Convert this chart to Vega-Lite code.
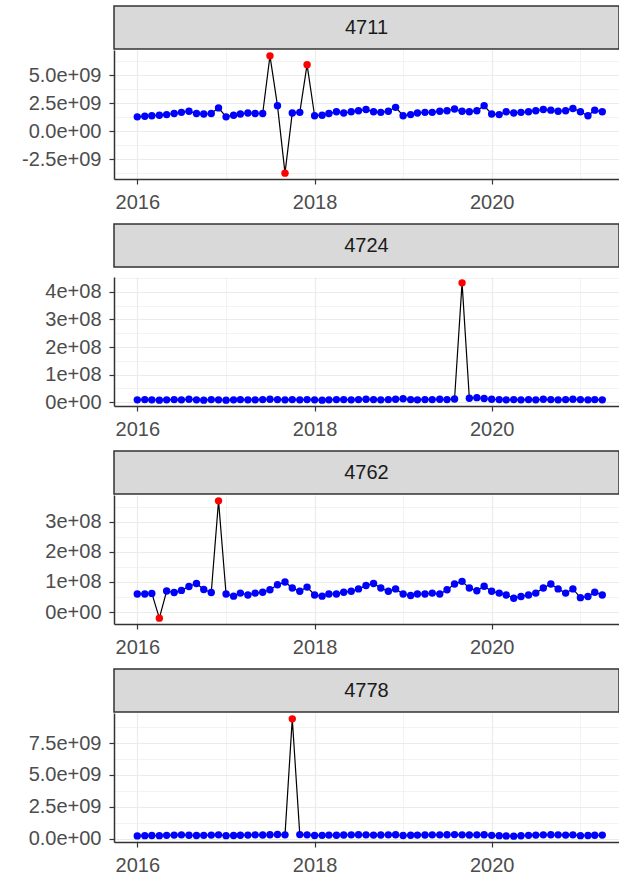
{
  "$schema": "https://vega.github.io/schema/vega-lite/v6.json",
  "padding": {"left": 14, "top": 5, "right": 0, "bottom": 0},
  "spacing": 11,
  "config": {
    "view": {"stroke": null},
    "axis": {"labelFont": "Liberation Sans", "labelFontSize": 20, "labelColor": "#4D4D4D", "tickColor": "#333333", "tickSize": 5, "tickWidth": 1.2, "domainColor": "#333333", "domainWidth": 1.5, "gridColor": "#EBEBEB", "labelPadding": 4, "labelFlush": false, "labelOverlap": false},
    "axisX": {"labelPadding": 8},
    "axisY": {"minExtent": 100, "maxExtent": 100, "labelPadding": 8}
  },
  "datasets": {
    "d": [
      {"p":"4711","d":"2016-01","v":1.30e9,"a":"N"},{"p":"4711","d":"2016-02","v":1.35e9,"a":"N"},{"p":"4711","d":"2016-03","v":1.40e9,"a":"N"},{"p":"4711","d":"2016-04","v":1.45e9,"a":"N"},{"p":"4711","d":"2016-05","v":1.50e9,"a":"N"},{"p":"4711","d":"2016-06","v":1.60e9,"a":"N"},{"p":"4711","d":"2016-07","v":1.70e9,"a":"N"},{"p":"4711","d":"2016-08","v":1.80e9,"a":"N"},{"p":"4711","d":"2016-09","v":1.60e9,"a":"N"},{"p":"4711","d":"2016-10","v":1.55e9,"a":"N"},{"p":"4711","d":"2016-11","v":1.60e9,"a":"N"},{"p":"4711","d":"2016-12","v":2.10e9,"a":"N"},
      {"p":"4711","d":"2017-01","v":1.30e9,"a":"N"},{"p":"4711","d":"2017-02","v":1.45e9,"a":"N"},{"p":"4711","d":"2017-03","v":1.55e9,"a":"N"},{"p":"4711","d":"2017-04","v":1.65e9,"a":"N"},{"p":"4711","d":"2017-05","v":1.60e9,"a":"N"},{"p":"4711","d":"2017-06","v":1.60e9,"a":"N"},{"p":"4711","d":"2017-07","v":6.75e9,"a":"Y"},{"p":"4711","d":"2017-08","v":2.30e9,"a":"N"},{"p":"4711","d":"2017-09","v":-3.73e9,"a":"Y"},{"p":"4711","d":"2017-10","v":1.65e9,"a":"N"},{"p":"4711","d":"2017-11","v":1.70e9,"a":"N"},{"p":"4711","d":"2017-12","v":5.96e9,"a":"Y"},
      {"p":"4711","d":"2018-01","v":1.40e9,"a":"N"},{"p":"4711","d":"2018-02","v":1.45e9,"a":"N"},{"p":"4711","d":"2018-03","v":1.60e9,"a":"N"},{"p":"4711","d":"2018-04","v":1.75e9,"a":"N"},{"p":"4711","d":"2018-05","v":1.65e9,"a":"N"},{"p":"4711","d":"2018-06","v":1.75e9,"a":"N"},{"p":"4711","d":"2018-07","v":1.85e9,"a":"N"},{"p":"4711","d":"2018-08","v":1.95e9,"a":"N"},{"p":"4711","d":"2018-09","v":1.75e9,"a":"N"},{"p":"4711","d":"2018-10","v":1.70e9,"a":"N"},{"p":"4711","d":"2018-11","v":1.80e9,"a":"N"},{"p":"4711","d":"2018-12","v":2.15e9,"a":"N"},
      {"p":"4711","d":"2019-01","v":1.40e9,"a":"N"},{"p":"4711","d":"2019-02","v":1.50e9,"a":"N"},{"p":"4711","d":"2019-03","v":1.65e9,"a":"N"},{"p":"4711","d":"2019-04","v":1.70e9,"a":"N"},{"p":"4711","d":"2019-05","v":1.70e9,"a":"N"},{"p":"4711","d":"2019-06","v":1.80e9,"a":"N"},{"p":"4711","d":"2019-07","v":1.85e9,"a":"N"},{"p":"4711","d":"2019-08","v":2.00e9,"a":"N"},{"p":"4711","d":"2019-09","v":1.80e9,"a":"N"},{"p":"4711","d":"2019-10","v":1.75e9,"a":"N"},{"p":"4711","d":"2019-11","v":1.85e9,"a":"N"},{"p":"4711","d":"2019-12","v":2.30e9,"a":"N"},
      {"p":"4711","d":"2020-01","v":1.55e9,"a":"N"},{"p":"4711","d":"2020-02","v":1.50e9,"a":"N"},{"p":"4711","d":"2020-03","v":1.75e9,"a":"N"},{"p":"4711","d":"2020-04","v":1.65e9,"a":"N"},{"p":"4711","d":"2020-05","v":1.70e9,"a":"N"},{"p":"4711","d":"2020-06","v":1.75e9,"a":"N"},{"p":"4711","d":"2020-07","v":1.85e9,"a":"N"},{"p":"4711","d":"2020-08","v":1.95e9,"a":"N"},{"p":"4711","d":"2020-09","v":1.90e9,"a":"N"},{"p":"4711","d":"2020-10","v":1.80e9,"a":"N"},{"p":"4711","d":"2020-11","v":1.85e9,"a":"N"},{"p":"4711","d":"2020-12","v":2.05e9,"a":"N"},
      {"p":"4711","d":"2021-01","v":1.75e9,"a":"N"},{"p":"4711","d":"2021-02","v":1.40e9,"a":"N"},{"p":"4711","d":"2021-03","v":1.90e9,"a":"N"},{"p":"4711","d":"2021-04","v":1.75e9,"a":"N"},

      {"p":"4724","d":"2016-01","v":8e6,"a":"N"},{"p":"4724","d":"2016-02","v":9e6,"a":"N"},{"p":"4724","d":"2016-03","v":8e6,"a":"N"},{"p":"4724","d":"2016-04","v":7e6,"a":"N"},{"p":"4724","d":"2016-05","v":8e6,"a":"N"},{"p":"4724","d":"2016-06","v":9e6,"a":"N"},{"p":"4724","d":"2016-07","v":8e6,"a":"N"},{"p":"4724","d":"2016-08","v":1.0e7,"a":"N"},{"p":"4724","d":"2016-09","v":8e6,"a":"N"},{"p":"4724","d":"2016-10","v":7e6,"a":"N"},{"p":"4724","d":"2016-11","v":9e6,"a":"N"},{"p":"4724","d":"2016-12","v":8e6,"a":"N"},
      {"p":"4724","d":"2017-01","v":7e6,"a":"N"},{"p":"4724","d":"2017-02","v":8e6,"a":"N"},{"p":"4724","d":"2017-03","v":9e6,"a":"N"},{"p":"4724","d":"2017-04","v":8e6,"a":"N"},{"p":"4724","d":"2017-05","v":8e6,"a":"N"},{"p":"4724","d":"2017-06","v":9e6,"a":"N"},{"p":"4724","d":"2017-07","v":1.0e7,"a":"N"},{"p":"4724","d":"2017-08","v":9e6,"a":"N"},{"p":"4724","d":"2017-09","v":8e6,"a":"N"},{"p":"4724","d":"2017-10","v":9e6,"a":"N"},{"p":"4724","d":"2017-11","v":8e6,"a":"N"},{"p":"4724","d":"2017-12","v":9e6,"a":"N"},
      {"p":"4724","d":"2018-01","v":8e6,"a":"N"},{"p":"4724","d":"2018-02","v":7e6,"a":"N"},{"p":"4724","d":"2018-03","v":8e6,"a":"N"},{"p":"4724","d":"2018-04","v":9e6,"a":"N"},{"p":"4724","d":"2018-05","v":9e6,"a":"N"},{"p":"4724","d":"2018-06","v":8e6,"a":"N"},{"p":"4724","d":"2018-07","v":9e6,"a":"N"},{"p":"4724","d":"2018-08","v":1.0e7,"a":"N"},{"p":"4724","d":"2018-09","v":9e6,"a":"N"},{"p":"4724","d":"2018-10","v":8e6,"a":"N"},{"p":"4724","d":"2018-11","v":9e6,"a":"N"},{"p":"4724","d":"2018-12","v":1.0e7,"a":"N"},
      {"p":"4724","d":"2019-01","v":1.2e7,"a":"N"},{"p":"4724","d":"2019-02","v":9e6,"a":"N"},{"p":"4724","d":"2019-03","v":8e6,"a":"N"},{"p":"4724","d":"2019-04","v":9e6,"a":"N"},{"p":"4724","d":"2019-05","v":9e6,"a":"N"},{"p":"4724","d":"2019-06","v":1.0e7,"a":"N"},{"p":"4724","d":"2019-07","v":9e6,"a":"N"},{"p":"4724","d":"2019-08","v":1.1e7,"a":"N"},{"p":"4724","d":"2019-09","v":4.33e8,"a":"Y"},{"p":"4724","d":"2019-10","v":1.4e7,"a":"N"},{"p":"4724","d":"2019-11","v":1.6e7,"a":"N"},{"p":"4724","d":"2019-12","v":1.3e7,"a":"N"},
      {"p":"4724","d":"2020-01","v":1.0e7,"a":"N"},{"p":"4724","d":"2020-02","v":9e6,"a":"N"},{"p":"4724","d":"2020-03","v":8e6,"a":"N"},{"p":"4724","d":"2020-04","v":9e6,"a":"N"},{"p":"4724","d":"2020-05","v":8e6,"a":"N"},{"p":"4724","d":"2020-06","v":9e6,"a":"N"},{"p":"4724","d":"2020-07","v":8e6,"a":"N"},{"p":"4724","d":"2020-08","v":1.0e7,"a":"N"},{"p":"4724","d":"2020-09","v":9e6,"a":"N"},{"p":"4724","d":"2020-10","v":8e6,"a":"N"},{"p":"4724","d":"2020-11","v":9e6,"a":"N"},{"p":"4724","d":"2020-12","v":1.0e7,"a":"N"},
      {"p":"4724","d":"2021-01","v":9e6,"a":"N"},{"p":"4724","d":"2021-02","v":8e6,"a":"N"},{"p":"4724","d":"2021-03","v":9e6,"a":"N"},{"p":"4724","d":"2021-04","v":8e6,"a":"N"},

      {"p":"4762","d":"2016-01","v":6.0e7,"a":"N"},{"p":"4762","d":"2016-02","v":6.0e7,"a":"N"},{"p":"4762","d":"2016-03","v":6.2e7,"a":"N"},{"p":"4762","d":"2016-04","v":-2.0e7,"a":"Y"},{"p":"4762","d":"2016-05","v":7.0e7,"a":"N"},{"p":"4762","d":"2016-06","v":6.5e7,"a":"N"},{"p":"4762","d":"2016-07","v":7.2e7,"a":"N"},{"p":"4762","d":"2016-08","v":8.5e7,"a":"N"},{"p":"4762","d":"2016-09","v":9.5e7,"a":"N"},{"p":"4762","d":"2016-10","v":7.5e7,"a":"N"},{"p":"4762","d":"2016-11","v":6.5e7,"a":"N"},{"p":"4762","d":"2016-12","v":3.69e8,"a":"Y"},
      {"p":"4762","d":"2017-01","v":6.0e7,"a":"N"},{"p":"4762","d":"2017-02","v":5.3e7,"a":"N"},{"p":"4762","d":"2017-03","v":6.3e7,"a":"N"},{"p":"4762","d":"2017-04","v":5.7e7,"a":"N"},{"p":"4762","d":"2017-05","v":6.3e7,"a":"N"},{"p":"4762","d":"2017-06","v":6.6e7,"a":"N"},{"p":"4762","d":"2017-07","v":7.4e7,"a":"N"},{"p":"4762","d":"2017-08","v":9.1e7,"a":"N"},{"p":"4762","d":"2017-09","v":1.0e8,"a":"N"},{"p":"4762","d":"2017-10","v":8.0e7,"a":"N"},{"p":"4762","d":"2017-11","v":6.9e7,"a":"N"},{"p":"4762","d":"2017-12","v":8.3e7,"a":"N"},
      {"p":"4762","d":"2018-01","v":5.7e7,"a":"N"},{"p":"4762","d":"2018-02","v":5.3e7,"a":"N"},{"p":"4762","d":"2018-03","v":6.0e7,"a":"N"},{"p":"4762","d":"2018-04","v":6.0e7,"a":"N"},{"p":"4762","d":"2018-05","v":6.6e7,"a":"N"},{"p":"4762","d":"2018-06","v":6.9e7,"a":"N"},{"p":"4762","d":"2018-07","v":7.7e7,"a":"N"},{"p":"4762","d":"2018-08","v":8.8e7,"a":"N"},{"p":"4762","d":"2018-09","v":9.5e7,"a":"N"},{"p":"4762","d":"2018-10","v":8.0e7,"a":"N"},{"p":"4762","d":"2018-11","v":6.9e7,"a":"N"},{"p":"4762","d":"2018-12","v":7.7e7,"a":"N"},
      {"p":"4762","d":"2019-01","v":6.0e7,"a":"N"},{"p":"4762","d":"2019-02","v":5.5e7,"a":"N"},{"p":"4762","d":"2019-03","v":6.0e7,"a":"N"},{"p":"4762","d":"2019-04","v":6.0e7,"a":"N"},{"p":"4762","d":"2019-05","v":6.3e7,"a":"N"},{"p":"4762","d":"2019-06","v":6.0e7,"a":"N"},{"p":"4762","d":"2019-07","v":7.4e7,"a":"N"},{"p":"4762","d":"2019-08","v":9.3e7,"a":"N"},{"p":"4762","d":"2019-09","v":1.02e8,"a":"N"},{"p":"4762","d":"2019-10","v":8.0e7,"a":"N"},{"p":"4762","d":"2019-11","v":7.1e7,"a":"N"},{"p":"4762","d":"2019-12","v":8.6e7,"a":"N"},
      {"p":"4762","d":"2020-01","v":6.9e7,"a":"N"},{"p":"4762","d":"2020-02","v":6.3e7,"a":"N"},{"p":"4762","d":"2020-03","v":5.7e7,"a":"N"},{"p":"4762","d":"2020-04","v":4.6e7,"a":"N"},{"p":"4762","d":"2020-05","v":5.2e7,"a":"N"},{"p":"4762","d":"2020-06","v":5.7e7,"a":"N"},{"p":"4762","d":"2020-07","v":6.3e7,"a":"N"},{"p":"4762","d":"2020-08","v":8.0e7,"a":"N"},{"p":"4762","d":"2020-09","v":9.3e7,"a":"N"},{"p":"4762","d":"2020-10","v":7.7e7,"a":"N"},{"p":"4762","d":"2020-11","v":6.3e7,"a":"N"},{"p":"4762","d":"2020-12","v":7.7e7,"a":"N"},
      {"p":"4762","d":"2021-01","v":4.8e7,"a":"N"},{"p":"4762","d":"2021-02","v":5.2e7,"a":"N"},{"p":"4762","d":"2021-03","v":6.6e7,"a":"N"},{"p":"4762","d":"2021-04","v":5.7e7,"a":"N"},

      {"p":"4778","d":"2016-01","v":2.2e8,"a":"N"},{"p":"4778","d":"2016-02","v":2.4e8,"a":"N"},{"p":"4778","d":"2016-03","v":2.5e8,"a":"N"},{"p":"4778","d":"2016-04","v":2.4e8,"a":"N"},{"p":"4778","d":"2016-05","v":2.6e8,"a":"N"},{"p":"4778","d":"2016-06","v":2.8e8,"a":"N"},{"p":"4778","d":"2016-07","v":3.0e8,"a":"N"},{"p":"4778","d":"2016-08","v":2.7e8,"a":"N"},{"p":"4778","d":"2016-09","v":2.5e8,"a":"N"},{"p":"4778","d":"2016-10","v":2.6e8,"a":"N"},{"p":"4778","d":"2016-11","v":2.8e8,"a":"N"},{"p":"4778","d":"2016-12","v":3.0e8,"a":"N"},
      {"p":"4778","d":"2017-01","v":2.4e8,"a":"N"},{"p":"4778","d":"2017-02","v":2.5e8,"a":"N"},{"p":"4778","d":"2017-03","v":2.7e8,"a":"N"},{"p":"4778","d":"2017-04","v":2.8e8,"a":"N"},{"p":"4778","d":"2017-05","v":3.0e8,"a":"N"},{"p":"4778","d":"2017-06","v":2.9e8,"a":"N"},{"p":"4778","d":"2017-07","v":3.1e8,"a":"N"},{"p":"4778","d":"2017-08","v":3.3e8,"a":"N"},{"p":"4778","d":"2017-09","v":3.0e8,"a":"N"},{"p":"4778","d":"2017-10","v":9.4e9,"a":"Y"},{"p":"4778","d":"2017-11","v":3.2e8,"a":"N"},{"p":"4778","d":"2017-12","v":3.0e8,"a":"N"},
      {"p":"4778","d":"2018-01","v":2.5e8,"a":"N"},{"p":"4778","d":"2018-02","v":2.6e8,"a":"N"},{"p":"4778","d":"2018-03","v":2.8e8,"a":"N"},{"p":"4778","d":"2018-04","v":2.7e8,"a":"N"},{"p":"4778","d":"2018-05","v":2.9e8,"a":"N"},{"p":"4778","d":"2018-06","v":3.0e8,"a":"N"},{"p":"4778","d":"2018-07","v":3.1e8,"a":"N"},{"p":"4778","d":"2018-08","v":3.0e8,"a":"N"},{"p":"4778","d":"2018-09","v":2.8e8,"a":"N"},{"p":"4778","d":"2018-10","v":2.9e8,"a":"N"},{"p":"4778","d":"2018-11","v":3.0e8,"a":"N"},{"p":"4778","d":"2018-12","v":3.1e8,"a":"N"},
      {"p":"4778","d":"2019-01","v":2.5e8,"a":"N"},{"p":"4778","d":"2019-02","v":2.7e8,"a":"N"},{"p":"4778","d":"2019-03","v":2.8e8,"a":"N"},{"p":"4778","d":"2019-04","v":2.9e8,"a":"N"},{"p":"4778","d":"2019-05","v":3.0e8,"a":"N"},{"p":"4778","d":"2019-06","v":3.0e8,"a":"N"},{"p":"4778","d":"2019-07","v":3.1e8,"a":"N"},{"p":"4778","d":"2019-08","v":3.2e8,"a":"N"},{"p":"4778","d":"2019-09","v":3.0e8,"a":"N"},{"p":"4778","d":"2019-10","v":2.9e8,"a":"N"},{"p":"4778","d":"2019-11","v":3.0e8,"a":"N"},{"p":"4778","d":"2019-12","v":3.1e8,"a":"N"},
      {"p":"4778","d":"2020-01","v":2.6e8,"a":"N"},{"p":"4778","d":"2020-02","v":2.4e8,"a":"N"},{"p":"4778","d":"2020-03","v":2.2e8,"a":"N"},{"p":"4778","d":"2020-04","v":2.0e8,"a":"N"},{"p":"4778","d":"2020-05","v":2.3e8,"a":"N"},{"p":"4778","d":"2020-06","v":2.6e8,"a":"N"},{"p":"4778","d":"2020-07","v":2.8e8,"a":"N"},{"p":"4778","d":"2020-08","v":3.0e8,"a":"N"},{"p":"4778","d":"2020-09","v":3.1e8,"a":"N"},{"p":"4778","d":"2020-10","v":3.0e8,"a":"N"},{"p":"4778","d":"2020-11","v":2.8e8,"a":"N"},{"p":"4778","d":"2020-12","v":3.0e8,"a":"N"},
      {"p":"4778","d":"2021-01","v":2.4e8,"a":"N"},{"p":"4778","d":"2021-02","v":2.5e8,"a":"N"},{"p":"4778","d":"2021-03","v":2.7e8,"a":"N"},{"p":"4778","d":"2021-04","v":2.8e8,"a":"N"}
    ]
  },
  "vconcat": [
    {
      "spacing": 0,
      "vconcat": [
        {"width": 505, "height": 43, "data": {"values": [{"panel": "4711"}]},
         "layer": [
           {"mark": {"type": "rect", "fill": "#D9D9D9", "stroke": "#333333", "strokeWidth": 1.5}, "encoding": {}},
           {"mark": {"type": "text", "font": "Liberation Sans", "fontSize": 20, "color": "#1A1A1A"}, "encoding": {"text": {"field": "panel"}}}
         ]},
        {"width": 505, "height": 129, "data": {"name": "d"},
         "transform": [{"filter": "datum.p == '4711'"}],
         "encoding": {
           "x": {"field": "d", "type": "temporal", "title": null,
             "scale": {"domain": [{"year": 2015, "month": 9, "date": 27}, {"year": 2021, "month": 6, "date": 9}]},
             "axis": {"grid": true, "format": "%Y", "values": [{"year": 2016, "month": 1, "date": 1}, {"year": 2017, "month": 1, "date": 1}, {"year": 2018, "month": 1, "date": 1}, {"year": 2019, "month": 1, "date": 1}, {"year": 2020, "month": 1, "date": 1}, {"year": 2021, "month": 1, "date": 1}],
               "labelExpr": "year(datum.value) % 2 == 1 ? '' : datum.label",
               "gridWidth": {"condition": {"test": "year(datum.value) % 2 == 1", "value": 0.6}, "value": 1.2},
               "tickOpacity": {"condition": {"test": "year(datum.value) % 2 == 1", "value": 0}, "value": 1}}},
           "y": {"field": "v", "type": "quantitative", "title": null,
             "scale": {"domain": [-4.254e9, 7.274e9], "nice": false, "zero": false},
             "axis": {"grid": true, "values": [-3.75e9, -2.5e9, -1.25e9, 0, 1.25e9, 2.5e9, 3.75e9, 5e9, 6.25e9],
               "labelExpr": "abs(round(datum.value / 1.25e9)) % 2 == 1 ? '' : replace(replace(format(datum.value, '.1e'), 'e+', 'e+0'), '\u2212', '-')",
               "gridWidth": {"condition": {"test": "abs(round(datum.value / 1.25e9)) % 2 == 1", "value": 0.6}, "value": 1.2},
               "tickOpacity": {"condition": {"test": "abs(round(datum.value / 1.25e9)) % 2 == 1", "value": 0}, "value": 1}}}
         },
         "layer": [
           {"mark": {"type": "line", "color": "black", "strokeWidth": 1.2}, "encoding": {}},
           {"mark": {"type": "point", "filled": true, "size": 55, "opacity": 1},
            "encoding": {"color": {"field": "a", "type": "nominal", "scale": {"domain": ["N", "Y"], "range": ["#0000FF", "#FF0000"]}, "legend": null}}}
         ]}
      ]
    },
    {
      "spacing": 0,
      "vconcat": [
        {"width": 505, "height": 43, "data": {"values": [{"panel": "4724"}]},
         "layer": [
           {"mark": {"type": "rect", "fill": "#D9D9D9", "stroke": "#333333", "strokeWidth": 1.5}, "encoding": {}},
           {"mark": {"type": "text", "font": "Liberation Sans", "fontSize": 20, "color": "#1A1A1A"}, "encoding": {"text": {"field": "panel"}}}
         ]},
        {"width": 505, "height": 129, "data": {"name": "d"},
         "transform": [{"filter": "datum.p == '4724'"}],
         "encoding": {
           "x": {"field": "d", "type": "temporal", "title": null,
             "scale": {"domain": [{"year": 2015, "month": 9, "date": 27}, {"year": 2021, "month": 6, "date": 9}]},
             "axis": {"grid": true, "format": "%Y", "values": [{"year": 2016, "month": 1, "date": 1}, {"year": 2017, "month": 1, "date": 1}, {"year": 2018, "month": 1, "date": 1}, {"year": 2019, "month": 1, "date": 1}, {"year": 2020, "month": 1, "date": 1}, {"year": 2021, "month": 1, "date": 1}],
               "labelExpr": "year(datum.value) % 2 == 1 ? '' : datum.label",
               "gridWidth": {"condition": {"test": "year(datum.value) % 2 == 1", "value": 0.6}, "value": 1.2},
               "tickOpacity": {"condition": {"test": "year(datum.value) % 2 == 1", "value": 0}, "value": 1}}},
           "y": {"field": "v", "type": "quantitative", "title": null,
             "scale": {"domain": [-1.43e7, 4.543e8], "nice": false, "zero": false},
             "axis": {"grid": true, "values": [0, 5e7, 1e8, 1.5e8, 2e8, 2.5e8, 3e8, 3.5e8, 4e8, 4.5e8],
               "labelExpr": "abs(round(datum.value / 5e7)) % 2 == 1 ? '' : replace(replace(format(datum.value, '.0e'), 'e+', 'e+0'), '\u2212', '-')",
               "gridWidth": {"condition": {"test": "abs(round(datum.value / 5e7)) % 2 == 1", "value": 0.6}, "value": 1.2},
               "tickOpacity": {"condition": {"test": "abs(round(datum.value / 5e7)) % 2 == 1", "value": 0}, "value": 1}}}
         },
         "layer": [
           {"mark": {"type": "line", "color": "black", "strokeWidth": 1.2}, "encoding": {}},
           {"mark": {"type": "point", "filled": true, "size": 55, "opacity": 1},
            "encoding": {"color": {"field": "a", "type": "nominal", "scale": {"domain": ["N", "Y"], "range": ["#0000FF", "#FF0000"]}, "legend": null}}}
         ]}
      ]
    },
    {
      "spacing": 0,
      "vconcat": [
        {"width": 505, "height": 43, "data": {"values": [{"panel": "4762"}]},
         "layer": [
           {"mark": {"type": "rect", "fill": "#D9D9D9", "stroke": "#333333", "strokeWidth": 1.5}, "encoding": {}},
           {"mark": {"type": "text", "font": "Liberation Sans", "fontSize": 20, "color": "#1A1A1A"}, "encoding": {"text": {"field": "panel"}}}
         ]},
        {"width": 505, "height": 129, "data": {"name": "d"},
         "transform": [{"filter": "datum.p == '4762'"}],
         "encoding": {
           "x": {"field": "d", "type": "temporal", "title": null,
             "scale": {"domain": [{"year": 2015, "month": 9, "date": 27}, {"year": 2021, "month": 6, "date": 9}]},
             "axis": {"grid": true, "format": "%Y", "values": [{"year": 2016, "month": 1, "date": 1}, {"year": 2017, "month": 1, "date": 1}, {"year": 2018, "month": 1, "date": 1}, {"year": 2019, "month": 1, "date": 1}, {"year": 2020, "month": 1, "date": 1}, {"year": 2021, "month": 1, "date": 1}],
               "labelExpr": "year(datum.value) % 2 == 1 ? '' : datum.label",
               "gridWidth": {"condition": {"test": "year(datum.value) % 2 == 1", "value": 0.6}, "value": 1.2},
               "tickOpacity": {"condition": {"test": "year(datum.value) % 2 == 1", "value": 0}, "value": 1}}},
           "y": {"field": "v", "type": "quantitative", "title": null,
             "scale": {"domain": [-3.945e7, 3.8845e8], "nice": false, "zero": false},
             "axis": {"grid": true, "values": [0, 5e7, 1e8, 1.5e8, 2e8, 2.5e8, 3e8, 3.5e8],
               "labelExpr": "abs(round(datum.value / 5e7)) % 2 == 1 ? '' : replace(replace(format(datum.value, '.0e'), 'e+', 'e+0'), '\u2212', '-')",
               "gridWidth": {"condition": {"test": "abs(round(datum.value / 5e7)) % 2 == 1", "value": 0.6}, "value": 1.2},
               "tickOpacity": {"condition": {"test": "abs(round(datum.value / 5e7)) % 2 == 1", "value": 0}, "value": 1}}}
         },
         "layer": [
           {"mark": {"type": "line", "color": "black", "strokeWidth": 1.2}, "encoding": {}},
           {"mark": {"type": "point", "filled": true, "size": 55, "opacity": 1},
            "encoding": {"color": {"field": "a", "type": "nominal", "scale": {"domain": ["N", "Y"], "range": ["#0000FF", "#FF0000"]}, "legend": null}}}
         ]}
      ]
    },
    {
      "spacing": 0,
      "vconcat": [
        {"width": 505, "height": 43, "data": {"values": [{"panel": "4778"}]},
         "layer": [
           {"mark": {"type": "rect", "fill": "#D9D9D9", "stroke": "#333333", "strokeWidth": 1.5}, "encoding": {}},
           {"mark": {"type": "text", "font": "Liberation Sans", "fontSize": 20, "color": "#1A1A1A"}, "encoding": {"text": {"field": "panel"}}}
         ]},
        {"width": 505, "height": 129, "data": {"name": "d"},
         "transform": [{"filter": "datum.p == '4778'"}],
         "encoding": {
           "x": {"field": "d", "type": "temporal", "title": null,
             "scale": {"domain": [{"year": 2015, "month": 9, "date": 27}, {"year": 2021, "month": 6, "date": 9}]},
             "axis": {"grid": true, "format": "%Y", "values": [{"year": 2016, "month": 1, "date": 1}, {"year": 2017, "month": 1, "date": 1}, {"year": 2018, "month": 1, "date": 1}, {"year": 2019, "month": 1, "date": 1}, {"year": 2020, "month": 1, "date": 1}, {"year": 2021, "month": 1, "date": 1}],
               "labelExpr": "year(datum.value) % 2 == 1 ? '' : datum.label",
               "gridWidth": {"condition": {"test": "year(datum.value) % 2 == 1", "value": 0.6}, "value": 1.2},
               "tickOpacity": {"condition": {"test": "year(datum.value) % 2 == 1", "value": 0}, "value": 1}}},
           "y": {"field": "v", "type": "quantitative", "title": null,
             "scale": {"domain": [-2.6e8, 9.86e9], "nice": false, "zero": false},
             "axis": {"grid": true, "values": [0, 1.25e9, 2.5e9, 3.75e9, 5e9, 6.25e9, 7.5e9, 8.75e9],
               "labelExpr": "abs(round(datum.value / 1.25e9)) % 2 == 1 ? '' : replace(replace(format(datum.value, '.1e'), 'e+', 'e+0'), '\u2212', '-')",
               "gridWidth": {"condition": {"test": "abs(round(datum.value / 1.25e9)) % 2 == 1", "value": 0.6}, "value": 1.2},
               "tickOpacity": {"condition": {"test": "abs(round(datum.value / 1.25e9)) % 2 == 1", "value": 0}, "value": 1}}}
         },
         "layer": [
           {"mark": {"type": "line", "color": "black", "strokeWidth": 1.2}, "encoding": {}},
           {"mark": {"type": "point", "filled": true, "size": 55, "opacity": 1},
            "encoding": {"color": {"field": "a", "type": "nominal", "scale": {"domain": ["N", "Y"], "range": ["#0000FF", "#FF0000"]}, "legend": null}}}
         ]}
      ]
    }
  ]
}
